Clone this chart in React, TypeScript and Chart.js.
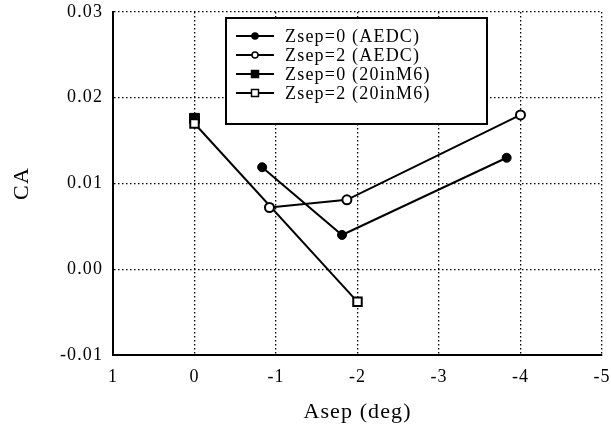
import React, { useEffect, useRef } from "react";
import { Chart, registerables } from "chart.js";

Chart.register(...registerables);

// ---- data ----
const xTickValues = [1, 0, -1, -2, -3, -4, -5];
const yTickValues = [-0.01, 0.0, 0.01, 0.02, 0.03];
const seriesLabels = ["Zsep=0 (AEDC)", "Zsep=2 (AEDC)", "Zsep=0 (20inM6)", "Zsep=2 (20inM6)"];

const z0AedcX = [-0.83, -1.81, -3.83];
const z0AedcY = [0.0119, 0.004, 0.013];
const z2AedcX = [-0.92, -1.87, -4.0];
const z2AedcY = [0.0072, 0.0081, 0.018];
const z0M6X = [0];
const z0M6Y = [0.0176];
const z2M6X = [0, -2.0];
const z2M6Y = [0.017, -0.0038];

const FONT = "'Liberation Serif', 'Times New Roman', Times, serif";
const SPACING = "1.1px";

const toPoints = (xs: number[], ys: number[]) => xs.map((x, i) => ({ x, y: ys[i] }));

const spacingPlugin = {
  id: "spacing",
  beforeLayout(chart: any) {
    (chart.ctx as any).letterSpacing = SPACING;
  },
  beforeDraw(chart: any) {
    (chart.ctx as any).letterSpacing = SPACING;
  },
};

function drawMarker(ctx: CanvasRenderingContext2D, style: string, filled: boolean, x: number, y: number, r: number) {
  ctx.beginPath();
  if (style === "rect") {
    ctx.rect(x - r, y - r, 2 * r, 2 * r);
  } else {
    ctx.arc(x, y, r, 0, Math.PI * 2);
  }
  ctx.fillStyle = filled ? "#000" : "#fff";
  ctx.fill();
  ctx.lineWidth = 1.5;
  ctx.strokeStyle = "#000";
  ctx.stroke();
}

const legendPlugin = {
  id: "boxLegend",
  afterDatasetsDraw(chart: any) {
    const ctx: CanvasRenderingContext2D = chart.ctx;
    const a = chart.chartArea;
    const x0 = a.left + 113;
    const y0 = a.top + 6;
    const w = 261;
    const h = 106;
    ctx.save();
    (ctx as any).letterSpacing = "1.2px";
    ctx.fillStyle = "#fff";
    ctx.fillRect(x0, y0, w, h);
    ctx.lineWidth = 2;
    ctx.strokeStyle = "#000";
    ctx.strokeRect(x0, y0, w, h);
    const styles = [
      { s: "circle", f: true, r: 3 },
      { s: "circle", f: false, r: 3 },
      { s: "rect", f: true, r: 3.5 },
      { s: "rect", f: false, r: 3.5 },
    ];
    seriesLabels.forEach((label, i) => {
      const y = y0 + 18 + i * 19;
      ctx.beginPath();
      ctx.moveTo(x0 + 10, y);
      ctx.lineTo(x0 + 48, y);
      ctx.lineWidth = 2;
      ctx.strokeStyle = "#000";
      ctx.stroke();
      drawMarker(ctx, styles[i].s, styles[i].f, x0 + 29, y, styles[i].r);
      ctx.fillStyle = "#000";
      ctx.font = `18px ${FONT}`;
      ctx.textBaseline = "middle";
      ctx.textAlign = "left";
      ctx.fillText(label, x0 + 59, y + 1);
    });
    ctx.restore();
  },
};

export default function App() {
  const canvasRef = useRef<HTMLCanvasElement | null>(null);

  useEffect(() => {
    if (!canvasRef.current) return;
    Chart.defaults.font.family = FONT;
    Chart.defaults.color = "#000";

    const chart = new Chart(canvasRef.current, {
      type: "scatter",
      data: {
        datasets: [
          {
            label: seriesLabels[0],
            data: toPoints(z0AedcX, z0AedcY),
            showLine: true,
            borderColor: "#000",
            borderWidth: 2,
            pointStyle: "circle",
            pointRadius: 4.5,
            pointBackgroundColor: "#000",
            pointBorderColor: "#000",
            pointBorderWidth: 1,
            order: 0,
          },
          {
            label: seriesLabels[1],
            data: toPoints(z2AedcX, z2AedcY),
            showLine: true,
            borderColor: "#000",
            borderWidth: 2,
            pointStyle: "circle",
            pointRadius: 4.5,
            pointBackgroundColor: "#fff",
            pointBorderColor: "#000",
            pointBorderWidth: 2,
            order: 0,
          },
          {
            label: seriesLabels[2],
            data: toPoints(z0M6X, z0M6Y),
            showLine: false,
            borderColor: "#000",
            pointStyle: "rect",
            pointRadius: 7,
            pointBackgroundColor: "#000",
            pointBorderColor: "#000",
            pointBorderWidth: 1,
            order: 1,
          },
          {
            label: seriesLabels[3],
            data: toPoints(z2M6X, z2M6Y),
            showLine: true,
            borderColor: "#000",
            borderWidth: 2,
            pointStyle: "rect",
            pointRadius: 6,
            pointBackgroundColor: "#fff",
            pointBorderColor: "#000",
            pointBorderWidth: 2,
            order: 0,
          },
        ],
      },
      options: {
        animation: false,
        responsive: true,
        maintainAspectRatio: false,
        layout: { padding: { top: 12, right: 9, left: 0, bottom: 0 } },
        plugins: {
          legend: { display: false },
          tooltip: { enabled: false },
        },
        scales: {
          x: {
            type: "linear",
            reverse: true,
            min: -5,
            max: 1,
            afterBuildTicks: (scale: any) => {
              scale.ticks = xTickValues.map((v) => ({ value: v }));
            },
            afterFit: (scale: any) => {
              scale.height = 74;
              scale.paddingLeft = 0;
              scale.paddingRight = 0;
            },
            ticks: {
              font: { size: 18 },
              color: "#000",
              padding: 11,
              maxRotation: 0,
              callback: (v: any) => String(v),
            },
            grid: {
              color: "#000",
              lineWidth: 1.3,
              drawTicks: false,
            },
            border: { display: true, color: "#000", width: 2, dash: [1.5, 2.5] },
            title: {
              display: true,
              text: "Asep (deg)",
              font: { size: 22 },
              color: "#000",
              padding: { top: 0, bottom: 4 },
            },
          },
          y: {
            type: "linear",
            min: -0.01,
            max: 0.03,
            afterBuildTicks: (scale: any) => {
              scale.ticks = yTickValues.map((v) => ({ value: v }));
            },
            afterFit: (scale: any) => {
              scale.width = 113;
              scale.paddingTop = 0;
              scale.paddingBottom = 0;
            },
            ticks: {
              font: { size: 18 },
              color: "#000",
              padding: 10,
              callback: (v: any) => Number(v).toFixed(2),
            },
            grid: {
              color: "#000",
              lineWidth: 1.3,
              drawTicks: false,
            },
            border: { display: true, color: "#000", width: 2, dash: [1.5, 2.5] },
            title: {
              display: true,
              text: "CA",
              font: { size: 22 },
              color: "#000",
              padding: { top: 9, bottom: 0 },
            },
          },
        },
      },
      plugins: [spacingPlugin, legendPlugin],
    } as any);

    return () => chart.destroy();
  }, []);

  return (
    <div style={{ position: "absolute", left: 0, top: 0, width: 611, height: 429, background: "#fff" }}>
      <canvas ref={canvasRef} />
    </div>
  );
}
